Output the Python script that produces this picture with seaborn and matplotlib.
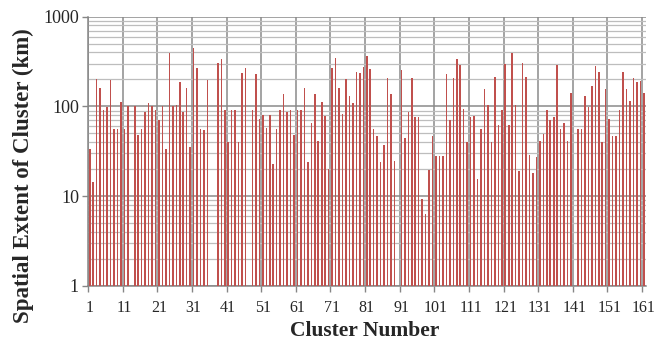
import numpy as np
import pandas as pd
import matplotlib
matplotlib.use("Agg")
import matplotlib.pyplot as plt
from matplotlib.ticker import FixedLocator, NullFormatter, LogLocator
import seaborn as sns

nan = np.nan
clusters = list(range(1, 162))
extent_km = [
    34, 14.4, 201, 160, 92, 98, 198, 56.5, 56.5, 111,
    56.5, 100, nan, 100, 47.6, 56.5, 87, 108, 100, 92,
    71, 100, 34, 392, 100, 103, 185, 87, 160, 35,
    449, 267, 56.5, 54, 196, nan, nan, 303, 336, 92,
    40, 92, 92, 40, 235, 267, nan, 92, 229, 73,
    81, 58, 81, 22.9, 56.5, 92, 137, 87, 92, 47.6,
    92, 92, 160, 23.9, 66, 137, 41.6, 113, 79, 20.3,
    267, 347, 160, 83, 201, 132, 108, 245, 237, 276,
    366, 260, 56.5, 47, 23.9, 36.9, 210, 137, 24.5, nan,
    253, 44.5, 87, 210, 76, 76, 9.4, 6.3, 19.8, 47,
    28.3, 28.3, 28.3, 229, 71, 210, 336, 290, 94, 39.8,
    76, 78, 15.6, 56.5, 156, 103, 39.8, 215, 61.5, 92,
    298, 61.5, 392, 103, 19, 308, 212, 29, 18.3, 27.6,
    41.6, 49, 92, 71, 76, 290, 56.5, 66, 41.6, 141,
    nan, 56.5, 56.5, 132, 98, 171, 283, 243, 40, 156,
    73, 47, 47, 92, 243, 156, 114, 210, 186, 191,
    141,
]
x_tick_labels = [str(v) for v in range(1, 162, 10)]
y_tick_labels = ["1", "10", "100", "1000"]

df = pd.DataFrame({"Cluster": clusters, "Extent": extent_km})

sns.set_style("white")
plt.rcParams["font.family"] = ["Liberation Serif", "DejaVu Serif"]

fig = plt.figure(figsize=(6.57, 3.45), dpi=100)
ax = fig.add_axes([88 / 657, 1 - 286 / 345, (645.5 - 88) / 657, (286 - 16.7) / 345])
ax.set_yscale("log")
ax.set_ylim(1, 1000)

sns.barplot(data=df.dropna(), x="Cluster", y="Extent", native_scale=True,
            width=0.45, color="#C0504D", saturation=1, ax=ax, zorder=3,
            linewidth=0)

ax.set_xlim(0.5, 161.5)

# x: gridlines/ticks at category boundaries, labels under the categories
ax.xaxis.set_major_locator(FixedLocator([c - 0.5 for c in range(1, 162, 10)]))
ax.xaxis.set_major_formatter(NullFormatter())
ax.xaxis.set_minor_locator(FixedLocator(list(range(1, 162, 10))))
ax.set_xticklabels(x_tick_labels, minor=True)
ax.tick_params(axis="x", which="major", length=4, width=1, color="#868686",
               direction="out", bottom=True)
ax.tick_params(axis="x", which="minor", length=0, pad=10, labelsize=11.5)

ax.yaxis.set_major_locator(FixedLocator([1, 10, 100, 1000]))
ax.set_yticklabels(y_tick_labels)
ax.yaxis.set_minor_locator(LogLocator(base=10, subs=np.arange(2, 10)))
ax.yaxis.set_minor_formatter(NullFormatter())
ax.tick_params(axis="y", which="major", length=4, width=1, color="#868686",
               direction="out", left=True, labelsize=13, pad=2.5)
ax.tick_params(axis="y", which="minor", length=0)

ax.grid(axis="y", which="major", color="#8A8A8A", linewidth=1.1, zorder=0)
ax.grid(axis="y", which="minor", color="#BDBDBD", linewidth=0.9, zorder=0)
ax.grid(axis="x", which="major", color="#8A8A8A", linewidth=1.1, zorder=0)
ax.set_axisbelow(True)

for s in ["top", "right"]:
    ax.spines[s].set_visible(False)
for s in ["left", "bottom"]:
    ax.spines[s].set_color("#868686")
    ax.spines[s].set_linewidth(1.1)

ax.set_xlabel("Cluster Number", fontsize=15.5, fontweight="bold")
ax.set_ylabel("Spatial Extent of Cluster (km)", fontsize=16.5, fontweight="bold")
ax.xaxis.label.set_va("center")
ax.yaxis.label.set_va("center")
ax.xaxis.set_label_coords((365 - 88) / 557.5, (286 - 331) / 269.3)
ax.yaxis.set_label_coords((23 - 88) / 557.5, (286 - 175.5) / 269.3)

fig.savefig("out.png", dpi=100)
